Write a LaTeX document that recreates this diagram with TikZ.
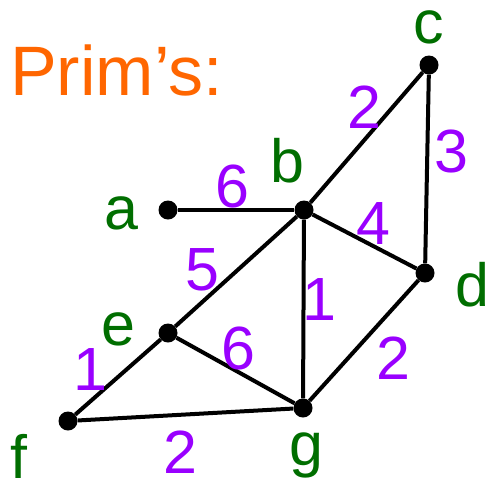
\documentclass[tikz,border=0pt]{standalone}
\usepackage{fontspec}
\setmainfont{Liberation Sans}
\usetikzlibrary{positioning}
\definecolor{primorange}{HTML}{FF6600}
\definecolor{vertgreen}{HTML}{006E00}
\definecolor{weightpurple}{HTML}{9900FF}

\begin{document}
\begin{tikzpicture}[x=1pt, y=-1pt,
    vertex/.style={circle, fill=black, inner sep=0pt, minimum size=19pt},
    vname/.style={text=vertgreen, inner sep=0pt, anchor=base, font=\fontsize{61}{61}\selectfont},
    weight/.style={text=weightpurple, inner sep=0pt, anchor=base, font=\fontsize{61}{61}\selectfont},
    edge/.style={line width=4pt}]
    \useasboundingbox (0,0) rectangle (487,483);

    % Title
    \node[text=primorange, inner sep=0pt, anchor=base west, font=\fontsize{70}{70}\selectfont] (title) at (10,95) {Prim’s:};

    % Vertices
    \node[vertex] (a) at (168,210) {};
    \node[vertex] (b) at (304,210) {};
    \node[vertex] (c) at (429,65) {};
    \node[vertex] (d) at (425,273) {};
    \node[vertex] (e) at (168,333) {};
    \node[vertex] (f) at (68,421) {};
    \node[vertex] (g) at (303,408) {};

    % Vertex names
    \node[vname] (la) at (121,229) {a};
    \node[vname] (lb) at (287,182) {b};
    \node[vname] (lc) at (429,43) {c};
    \node[vname] (ld) at (472,306) {d};
    \node[vname] (le) at (118,345) {e};
    \node[vname] (lf) at (19,478) {f};
    \node[vname] (lg) at (306,465) {g};

    % Edges
    \draw[edge] (a) -- (b);
    \draw[edge] (b) -- (c);
    \draw[edge] (c) -- (d);
    \draw[edge] (b) -- (d);
    \draw[edge] (b) -- (e);
    \draw[edge] (b) -- (g);
    \draw[edge] (e) -- (g);
    \draw[edge] (d) -- (g);
    \draw[edge] (e) -- (f);
    \draw[edge] (f) -- (g);

    % Weights
    \node[weight] (wab) at (232,207) {6};
    \node[weight] (wbc) at (364,128) {2};
    \node[weight] (wcd) at (451,172) {3};
    \node[weight] (wbd) at (373,244) {4};
    \node[weight] (wbe) at (202,290) {5};
    \node[weight] (wbg) at (319,320) {1};
    \node[weight] (weg) at (238,369) {6};
    \node[weight] (wdg) at (393,379) {2};
    \node[weight] (wef) at (90,390) {1};
    \node[weight] (wfg) at (180,473) {2};
\end{tikzpicture}
\end{document}
